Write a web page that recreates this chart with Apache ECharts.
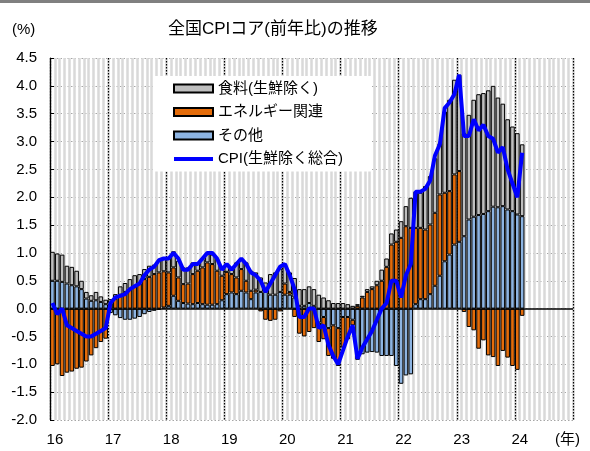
<!DOCTYPE html>
<html>
<head>
<meta charset="utf-8">
<script src="https://cdn.jsdelivr.net/npm/echarts@6/dist/echarts.min.js"></script>
<style>
  html, body { margin: 0; padding: 0; background: #fff; }
  #chart { width: 590px; height: 451px; }
</style>
</head>
<body>
<div id="chart"></div>
<script>
// 2016/1 - 2024/12 monthly axis, data up to 2024/2
const yearLabels = ["16", "17", "18", "19", "20", "21", "22", "23", "24"];
const months = [];
yearLabels.forEach((y) => {
  for (let m = 1; m <= 12; m++) months.push(y + "/" + m);
});

// contribution (pt)
const food = [
  0.52, 0.49, 0.49, 0.32, 0.33, 0.28, 0.15, 0.12, 0.10, 0.15, 0.10, 0.08,
  0.07, 0.08, 0.15, 0.16, 0.18, 0.20, 0.17, 0.18, 0.20, 0.17, 0.22, 0.25,
  0.25, 0.29, 0.30, 0.30, 0.29, 0.21, 0.15, 0.15, 0.15, 0.17, 0.21, 0.15,
  0.14, 0.12, 0.27, 0.18, 0.33, 0.36, 0.31, 0.26, 0.17, 0.37, 0.40, 0.42,
  0.35, 0.35, 0.35, 0.30, 0.30, 0.30, 0.30, 0.25, 0.20, 0.15, 0.10, 0.10,
  0.10, 0.08, 0.05, 0.03, 0.03, 0.05, 0.05, 0.08, 0.20, 0.15, 0.20, 0.22,
  0.30, 0.36, 0.54, 0.65, 0.63, 0.78, 0.87, 0.98, 0.92, 1.46, 1.64, 1.70,
  1.73, 1.85, 1.88, 2.10, 2.17, 2.17, 2.17, 2.17, 1.97, 1.84, 1.62, 1.52,
  1.46, 1.29
];
const energy = [
  -1.03, -1.00, -1.21, -1.15, -1.13, -1.08, -1.06, -0.95, -0.84, -0.71, -0.60, -0.54,
  0.10, 0.18, 0.25, 0.30, 0.35, 0.40, 0.45, 0.53, 0.57, 0.62, 0.65, 0.65,
  0.60, 0.51, 0.42, 0.34, 0.36, 0.54, 0.58, 0.66, 0.76, 0.73, 0.60, 0.44,
  0.40, 0.33, 0.30, 0.39, 0.21, 0.15, 0.05, -0.05, -0.20, -0.22, -0.20, -0.05,
  0.20, 0.05, -0.15, -0.45, -0.50, -0.42, -0.35, -0.35, -0.40, -0.50, -0.60, -0.68,
  -0.55, -0.40, -0.10, 0.05, 0.20, 0.30, 0.35, 0.42, 0.50, 0.75, 1.15, 1.20,
  1.27, 1.48, 1.45, 1.37, 1.28, 1.25, 1.25, 1.31, 1.46, 1.23, 1.14, 1.26,
  1.27, -0.06, -0.33, -0.39, -0.72, -0.57, -0.84, -0.87, -1.03, -0.76, -0.88, -1.03,
  -1.10, -0.13
];
const other = [
  0.50, 0.50, 0.48, 0.45, 0.42, 0.40, 0.35, 0.18, 0.14, 0.15, 0.12, 0.08,
  -0.08, -0.12, -0.17, -0.20, -0.20, -0.18, -0.15, -0.10, -0.06, -0.04, -0.02, 0.02,
  0.05, 0.23, 0.14, 0.10, 0.09, 0.08, 0.10, 0.08, 0.07, 0.07, 0.08, 0.15,
  0.26, 0.29, 0.26, 0.32, 0.29, 0.17, 0.29, 0.30, 0.30, 0.25, 0.25, 0.30,
  0.25, 0.25, 0.20, 0.05, 0.05, 0.10, 0.05, -0.25, -0.15, -0.35, -0.30, -0.35,
  -0.15, -0.15, -0.20, -0.92, -0.82, -0.79, -0.78, -0.79, -0.85, -0.85, -0.85, -1.03,
  -1.35, -1.20, -1.18, 0.08, 0.17, 0.17, 0.26, 0.41, 0.59, 0.85, 0.97, 1.15,
  1.20, 1.30, 1.60, 1.65, 1.68, 1.70, 1.75, 1.83, 1.82, 1.84, 1.78, 1.75,
  1.69, 1.66
];
// core CPI, y/y %
const cpiCore = [
  0.1, -0.1, 0.0, -0.3, -0.35, -0.4, -0.45, -0.5, -0.5, -0.45, -0.4, -0.35,
  0.1, 0.2, 0.23, 0.26, 0.35, 0.4, 0.45, 0.6, 0.7, 0.75, 0.87, 0.9,
  0.9, 1.0, 0.9, 0.7, 0.7, 0.8, 0.8, 0.9, 1.0, 1.0, 0.9, 0.7,
  0.8, 0.7, 0.8, 0.9, 0.8, 0.65, 0.6, 0.5, 0.3, 0.45, 0.6, 0.75,
  0.8, 0.6, 0.35, -0.15, -0.15, 0.0, 0.0, -0.35, -0.3, -0.65, -0.85, -1.0,
  -0.75, -0.5, -0.3, -0.9, -0.7, -0.55, -0.4, -0.2, 0.0, 0.1, 0.5, 0.5,
  0.2, 0.6, 0.8, 2.1, 2.1, 2.15, 2.3, 2.75, 2.95, 3.6, 3.7, 3.85,
  4.2, 3.1, 3.1, 3.4, 3.2, 3.3, 3.1, 3.05, 2.8, 2.9, 2.5, 2.25,
  2.0, 2.8
];

const FONT = "'Liberation Sans', 'Noto Sans CJK JP', sans-serif";
const barBorder = { borderColor: "#000", borderWidth: 1 };

const chart = echarts.init(document.getElementById("chart"));

chart.setOption({
  animation: false,
  textStyle: { fontFamily: FONT, color: "#000" },
  title: {
    text: "全国CPIコア(前年比)の推移",
    left: 168,
    top: 21,
    padding: 0,
    textStyle: { fontSize: 17, fontWeight: "normal", color: "#000", fontFamily: FONT },
  },
  graphic: [
    { type: "rect", left: 0, top: 0, shape: { width: 590, height: 3 }, style: { fill: "#808080" } },
    { type: "text", left: 12, top: 22, style: { text: "(%)", fill: "#000", font: "15px " + FONT } },
    { type: "text", left: 555, top: 432, style: { text: "(年)", fill: "#000", font: "15px " + FONT } },
  ],
  legend: {
    orient: "vertical",
    left: 155,
    top: 76,
    padding: [5, 29, 5, 18],
    itemGap: 8.5,
    itemWidth: 39,
    itemHeight: 8,
    backgroundColor: "#fff",
    textStyle: { fontSize: 15, color: "#000", fontFamily: FONT },
    data: [
      { name: "食料(生鮮除く)", icon: "rect" },
      { name: "エネルギー関連", icon: "rect" },
      { name: "その他", icon: "rect" },
      { name: "CPI(生鮮除く総合)", icon: "path://M0,0H39V4H0Z" },
    ],
  },
  grid: { left: 50, top: 58, width: 523, height: 362 },
  xAxis: [
    {
      type: "category",
      data: months,
      boundaryGap: true,
      axisLine: { show: false },
      axisTick: { show: false },
      axisLabel: {
        interval: (i) => i % 12 === 0,
        formatter: (v, i) => yearLabels[i / 12],
        fontSize: 15,
        color: "#000",
        margin: 12,
        padding: [0, 0, 0, 5],
      },
      splitLine: { show: true, interval: 0, lineStyle: { color: "#d9d9d9", width: 2.5 } },
    },
    {
      type: "category",
      data: months,
      boundaryGap: true,
      position: "top",
      axisLine: { show: false },
      axisTick: { show: false },
      axisLabel: { show: false },
      splitLine: {
        show: true,
        interval: (i) => i % 12 === 0,
        lineStyle: { color: "#000", type: [1.5, 1.5], width: 1.2 },
      },
    },
  ],
  yAxis: {
    type: "value",
    min: -2,
    max: 4.5,
    interval: 0.5,
    axisLine: { show: true, lineStyle: { color: "#000", width: 1.2 } },
    axisTick: { show: true, inside: true, length: 4, lineStyle: { color: "#000" } },
    axisLabel: { formatter: (v) => v.toFixed(1), fontSize: 15, color: "#000", margin: 13 },
    splitLine: { lineStyle: { color: "#a6a6a6", type: [1.5, 2] } },
  },
  series: [
    {
      name: "その他",
      type: "bar",
      stack: "c",
      data: other,
      barCategoryGap: "5%",
      itemStyle: { color: "#8db4e2", ...barBorder },
    },
    {
      name: "エネルギー関連",
      type: "bar",
      stack: "c",
      data: energy,
      itemStyle: { color: "#e46c0a", ...barBorder },
    },
    {
      name: "食料(生鮮除く)",
      type: "bar",
      stack: "c",
      data: food,
      itemStyle: { color: "#bfbfbf", ...barBorder },
      markLine: {
        silent: true,
        symbol: ["none", "none"],
        label: { show: false },
        lineStyle: { color: "#000", type: "solid", width: 1.5 },
        data: [{ yAxis: 0 }],
      },
    },
    {
      name: "CPI(生鮮除く総合)",
      type: "line",
      data: cpiCore,
      symbol: "none",
      z: 5,
      lineStyle: { color: "#0000ff", width: 4 },
      itemStyle: { color: "#0000ff" },
    },
  ],
});
</script>
</body>
</html>
